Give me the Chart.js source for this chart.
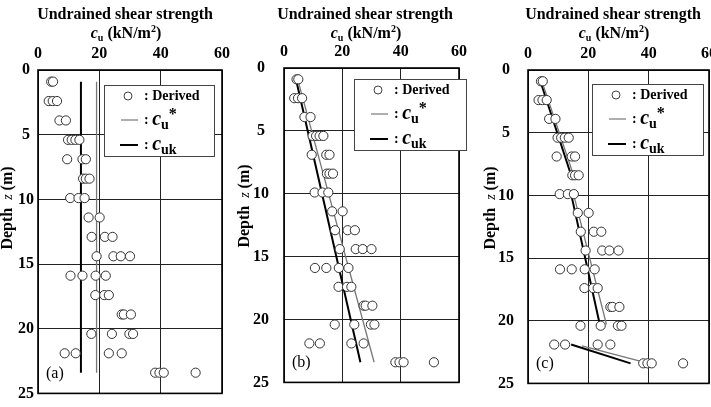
<!DOCTYPE html>
<html>
<head>
<meta charset="utf-8">
<script src="https://cdn.jsdelivr.net/npm/chart.js@4/dist/chart.umd.min.js"></script>
<style>
  body { margin: 0; width: 711px; height: 407px; overflow: hidden; position: relative; background: #fff; }
  canvas { position: absolute; top: 0; }
</style>
</head>
<body>
<canvas id="panelA" width="237" height="407" style="left:0px"></canvas>
<canvas id="panelB" width="237" height="407" style="left:237px"></canvas>
<canvas id="panelC" width="250" height="407" style="left:474px"></canvas>
<script>
// derived undrained shear strength (same data set in all three panels)
var derivedDepth = [0.9,0.9, 2.4,2.4,2.4, 3.9,3.9, 5.4,5.4,5.4,5.4, 6.9,6.9,6.9, 8.4,8.4,8.4,
  9.9,9.9,9.9, 11.4,11.4, 12.9,12.9,12.9, 14.4,14.4,14.4,14.4, 15.9,15.9,15.9,15.9,
  17.4,17.4,17.4, 18.9,18.9,18.9, 20.4,20.4,20.4,20.4, 21.9,21.9,21.9,21.9, 23.4,23.4,23.4,23.4];
var derivedCu = [4.3,4.9, 3.5,4.8,6.2, 7.0,9.1, 9.8,11.0,12.2,13.5, 9.5,14.5,15.6, 14.7,15.6,16.8,
  10.5,13.2,15.2, 16.5,20.1, 17.5,21.8,24.3, 19.1,24.6,27.0,30.0, 10.6,14.5,18.8,22.1,
  18.7,21.6,23.1, 27.3,28.0,30.3, 17.4,24.1,29.8,31.0, 8.7,12.3,23.1,27.3, 38.2,39.6,41.0,51.4];

// (a) constant
var cuStarA = [19.1, 19.1], cuStarDepthA = [0.9, 23.4];
var cukA = [14.0, 14.0], cukDepthA = [0.9, 23.4];
// (b) linear trend
var cuStarB = [4.7, 30.9], cuStarDepthB = [0.9, 23.4];
var cukB = [4.1, 26.2], cukDepthB = [0.9, 23.4];
// (c) per layer
var cuStarC = [4.6, 15.1, null, 15.1, 26.0, null, 17.9, 38.4];
var cuStarDepthC = [0.9, 8.4, null, 9.9, 20.3, null, 22.0, 23.3];
var cukC = [4.1, 14.3, null, 14.3, 23.8, null, 14.3, 34.0];
var cukDepthC = [0.9, 8.4, null, 9.9, 20.3, null, 21.9, 23.4];

var xTicks = [0, 20, 40, 60];
var depthTicks = [0, 5, 10, 15, 20, 25];

var SERIF = '"Liberation Serif", "Times New Roman", serif';

function pts(xs, ys) {
  return xs.map(function(v, i) { return { x: v, y: ys[i] }; });
}

function richText(ctx, runs, x, y, align) {
  var w = 0;
  runs.forEach(function(r) { ctx.font = r[1]; w += ctx.measureText(r[0]).width; });
  var cx = align === 'center' ? x - w / 2 : x;
  ctx.textAlign = 'left';
  ctx.textBaseline = 'middle';
  runs.forEach(function(r) {
    ctx.font = r[1];
    ctx.fillText(r[0], cx, y + (r[2] || 0));
    cx += ctx.measureText(r[0]).width;
  });
}

var decor = {
  id: 'decor',
  afterDraw: function(chart) {
    var o = chart.options.plugins.decor;
    var ctx = chart.ctx, a = chart.chartArea;
    ctx.save();
    ctx.fillStyle = '#000';
    // title
    richText(ctx, [['Undrained shear strength', 'bold 16px ' + SERIF]], a.left + o.titleOff, 15, 'center');
    richText(ctx, [['c', 'italic bold 16px ' + SERIF], ['u', 'bold 10px ' + SERIF, 4],
      [' (kN/m', 'bold 16px ' + SERIF], ['2', 'bold 10px ' + SERIF, -5], [')', 'bold 16px ' + SERIF]],
      a.left + o.titleOff + 1, 34, 'center');
    // y title
    ctx.save();
    ctx.translate(a.left - o.yTitleOff, a.top + 138);
    ctx.rotate(-Math.PI / 2);
    richText(ctx, [['Depth  ', 'bold 16px ' + SERIF], ['z', 'italic 14px ' + SERIF], [' (m)', 'bold 16px ' + SERIF]], 0, 0, 'center');
    ctx.restore();
    // frame
    ctx.strokeStyle = '#000';
    ctx.lineWidth = 1.6;
    ctx.strokeRect(a.left, a.top, a.right - a.left, a.bottom - a.top);
    // legend
    var lx = a.left + o.legX, ly = a.top + o.legY;
    ctx.fillStyle = '#fff';
    ctx.fillRect(lx, ly, o.legW, 71);
    ctx.strokeStyle = '#444';
    ctx.lineWidth = 1;
    ctx.strokeRect(lx + 0.5, ly + 0.5, o.legW, 71);
    ctx.beginPath();
    ctx.arc(lx + 24, ly + 11, 4, 0, Math.PI * 2);
    ctx.fillStyle = '#fff'; ctx.fill();
    ctx.strokeStyle = '#444'; ctx.stroke();
    ctx.fillStyle = '#000';
    richText(ctx, [[':', 'bold 14px ' + SERIF], [' Derived', 'bold 14px ' + SERIF]], lx + 40, ly + 11, 'left');
    ctx.strokeStyle = '#777'; ctx.lineWidth = 1.2;
    ctx.beginPath(); ctx.moveTo(lx + 17, ly + 35); ctx.lineTo(lx + 34, ly + 35); ctx.stroke();
    richText(ctx, [[': ', 'bold 14px ' + SERIF], ['c', 'italic bold 20px ' + SERIF], ['u', 'bold 14px ' + SERIF, 5],
      ['*', 'bold 16px ' + SERIF, -5]], lx + 40, ly + 35, 'left');
    ctx.strokeStyle = '#000'; ctx.lineWidth = 2;
    ctx.beginPath(); ctx.moveTo(lx + 16, ly + 60); ctx.lineTo(lx + 34, ly + 60); ctx.stroke();
    richText(ctx, [[': ', 'bold 14px ' + SERIF], ['c', 'italic bold 20px ' + SERIF], ['uk', 'bold 14px ' + SERIF, 5]],
      lx + 40, ly + 60, 'left');
    // panel letter
    richText(ctx, [[o.letter, '16px ' + SERIF]], a.left + 8, a.bottom - 20, 'left');
    ctx.restore();
  }
};

function makePanel(id, cfg) {
  new Chart(document.getElementById(id), {
    type: 'scatter',
    data: {
      datasets: [
        {
          label: 'Derived',
          data: pts(derivedCu, derivedDepth),
          pointRadius: 4.6,
          pointBorderWidth: 1,
          pointBorderColor: '#333',
          pointBackgroundColor: '#fff'
        },
        {
          label: 'cu*',
          data: pts(cfg.star, cfg.starDepth),
          showLine: true, spanGaps: false,
          pointRadius: 0,
          borderColor: '#777',
          borderWidth: 1.3
        },
        {
          label: 'cuk',
          data: pts(cfg.k, cfg.kDepth),
          showLine: true, spanGaps: false,
          pointRadius: 0,
          borderColor: '#000',
          borderWidth: 2
        }
      ]
    },
    options: {
      responsive: false,
      animation: false,
      devicePixelRatio: 1,
      layout: { padding: { left: 0, top: 0, right: cfg.padR, bottom: cfg.padB } },
      plugins: {
        legend: { display: false },
        tooltip: { enabled: false },
        decor: { yTitleOff: cfg.yTitleOff, titleOff: cfg.titleOff, legX: cfg.legX, legY: cfg.legY, legW: cfg.legW, letter: cfg.letter }
      },
      scales: {
        x: {
          type: 'linear', position: 'top', min: 0, max: 60,
          afterBuildTicks: function(s) { s.ticks = xTicks.map(function(v) { return { value: v }; }); },
          afterFit: function(s) { s.height = cfg.top; },
          grid: { color: '#222', lineWidth: 1, drawTicks: false },
          border: { display: false },
          ticks: { padding: 7, color: '#000', font: { family: SERIF, size: 16, weight: 'bold' }, maxRotation: 0 }
        },
        y: {
          type: 'linear', reverse: true, min: 0, max: 25,
          afterBuildTicks: function(s) { s.ticks = depthTicks.map(function(v) { return { value: v }; }); },
          afterFit: function(s) { s.width = cfg.left; },
          grid: { color: '#222', lineWidth: 1, drawTicks: false },
          border: { display: false },
          ticks: { padding: cfg.tickPad, crossAlign: 'center', color: '#000', font: { family: SERIF, size: 16, weight: 'bold' } }
        }
      }
    },
    plugins: [decor]
  });
}

makePanel('panelA', { star: cuStarA, starDepth: cuStarDepthA, k: cukA, kDepth: cukDepthA,
  left: 38, top: 70, padR: 15, padB: 3, tickPad: 4, yTitleOff: 30, titleOff: 87, legX: 66, legY: 15, legW: 110, letter: '(a)' });
makePanel('panelB', { star: cuStarB, starDepth: cuStarDepthB, k: cukB, kDepth: cukDepthB,
  left: 47, top: 68, padR: 8, padB: 8, tickPad: 15, yTitleOff: 39, titleOff: 81, legX: 70, legY: 11, legW: 112, letter: '(b)' });
makePanel('panelC', { star: cuStarC, starDepth: cuStarDepthC, k: cukC, kDepth: cukDepthC,
  left: 54, top: 70, padR: 13, padB: 5, tickPad: 14, yTitleOff: 37, titleOff: 85, legX: 64, legY: 14, legW: 111, letter: '(c)' });
</script>
</body>
</html>
